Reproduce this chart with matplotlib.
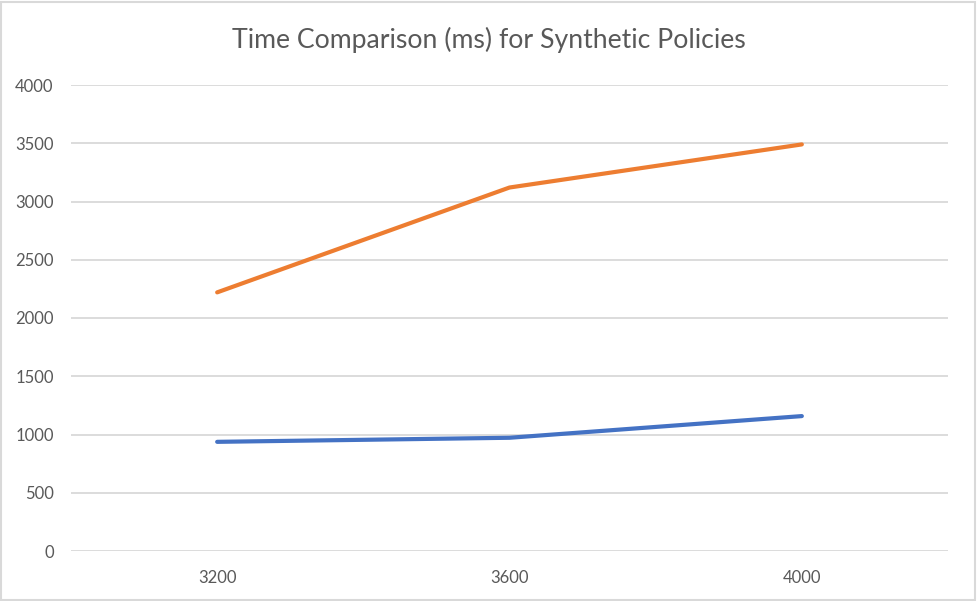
import matplotlib
matplotlib.use("Agg")
import matplotlib.pyplot as plt
from matplotlib.patches import Rectangle

categories = ["3200", "3600", "4000"]
series_orange = [2220, 3120, 3490]
series_blue = [937, 972, 1158]
y_ticks = [0, 500, 1000, 1500, 2000, 2500, 3000, 3500, 4000]
title = "Time Comparison (ms) for Synthetic Policies"

plt.rcParams['font.family'] = ['Lato', 'DejaVu Sans']

W, H = 977, 601
fig = plt.figure(figsize=(W/100, H/100), dpi=100)
fig.patch.set_facecolor("white")
fig.patches.append(Rectangle((0.001, 0.002), 0.997, 0.995, transform=fig.transFigure,
                             fill=False, edgecolor="#d9d9d9", linewidth=1.5))

left, right = 71/W, 948/W
bottom, top = 1-551/H, 1-85/H
ax = fig.add_axes([left, bottom, right-left, top-bottom])

x = list(range(len(categories)))
ax.plot(x, series_blue, color="#4472C4", linewidth=3.0, solid_capstyle="round", zorder=3)
ax.plot(x, series_orange, color="#ED7D31", linewidth=3.0, solid_capstyle="round", zorder=3)

ax.set_xlim(-0.5, len(categories)-0.5)
ax.set_ylim(0, 4000)
ax.set_yticks(y_ticks)
ax.set_yticklabels([str(v) for v in y_ticks])
ax.set_xticks(x)
ax.set_xticklabels(categories)
ax.yaxis.grid(True, color="#d9d9d9", linewidth=1.3)
ax.set_axisbelow(True)
for s in ax.spines.values():
    s.set_visible(False)
ax.tick_params(axis="both", length=0, labelsize=12, labelcolor="#595959")
ax.tick_params(axis="y", pad=12.5)
ax.tick_params(axis="x", pad=14)

fig.text(0.5, 1-40/H, title, ha="center", va="center", fontsize=19.2, color="#595959")

fig.savefig("out.png", dpi=100, facecolor="white")
